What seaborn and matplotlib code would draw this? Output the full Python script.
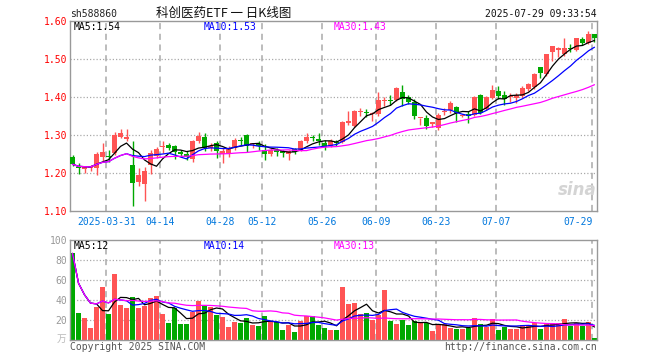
import numpy as np
import pandas as pd
import seaborn as sns
import matplotlib
matplotlib.use("Agg")
import matplotlib.pyplot as plt

# ---- data ----
dates = ["03-21", "03-24", "03-25", "03-26", "03-27", "03-28", "03-31", "04-01", "04-02", "04-03",
         "04-07", "04-08", "04-09", "04-10", "04-11", "04-14", "04-15", "04-16", "04-17", "04-18",
         "04-21", "04-22", "04-23", "04-24", "04-25", "04-28", "04-29", "04-30", "05-06", "05-07",
         "05-08", "05-09", "05-12", "05-13", "05-14", "05-15", "05-16", "05-19", "05-20", "05-21",
         "05-22", "05-23", "05-26", "05-27", "05-28", "05-29", "05-30", "06-03", "06-04", "06-05",
         "06-06", "06-09", "06-10", "06-11", "06-12", "06-13", "06-16", "06-17", "06-18", "06-19",
         "06-20", "06-23", "06-24", "06-25", "06-26", "06-27", "06-30", "07-01", "07-02", "07-03",
         "07-04", "07-07", "07-08", "07-09", "07-10", "07-11", "07-14", "07-15", "07-16", "07-17",
         "07-18", "07-21", "07-22", "07-23", "07-24", "07-25", "07-28", "07-29"]

opens = [1.242, 1.216, 1.210, 1.213, 1.213, 1.243, 1.244, 1.252, 1.296, 1.289,
         1.222, 1.176, 1.171, 1.222, 1.246, 1.268, 1.274, 1.271, 1.255, 1.249,
         1.237, 1.283, 1.296, 1.265, 1.280, 1.250, 1.250, 1.265, 1.286, 1.300,
         1.276, 1.276, 1.261, 1.250, 1.261, 1.257, 1.250, 1.263, 1.259, 1.285,
         1.294, 1.289, 1.278, 1.271, 1.282, 1.282, 1.332, 1.325, 1.360, 1.360,
         1.354, 1.354, 1.389, 1.393, 1.393, 1.413, 1.399, 1.387, 1.345, 1.344,
         1.330, 1.319, 1.361, 1.365, 1.374, 1.349, 1.356, 1.353, 1.405, 1.368,
         1.398, 1.416, 1.405, 1.400, 1.398, 1.403, 1.422, 1.426, 1.479, 1.460,
         1.518, 1.525, 1.512, 1.528, 1.523, 1.552, 1.543, 1.565]
highs = [1.247, 1.226, 1.219, 1.222, 1.254, 1.280, 1.261, 1.309, 1.316, 1.316,
         1.283, 1.213, 1.217, 1.261, 1.268, 1.285, 1.278, 1.274, 1.261, 1.257,
         1.287, 1.309, 1.304, 1.278, 1.283, 1.265, 1.271, 1.291, 1.296, 1.303,
         1.280, 1.283, 1.277, 1.265, 1.265, 1.261, 1.261, 1.265, 1.287, 1.304,
         1.300, 1.304, 1.287, 1.289, 1.288, 1.336, 1.363, 1.366, 1.372, 1.368,
         1.360, 1.414, 1.401, 1.404, 1.426, 1.431, 1.404, 1.395, 1.346, 1.353,
         1.335, 1.358, 1.371, 1.389, 1.376, 1.356, 1.362, 1.403, 1.407, 1.403,
         1.432, 1.428, 1.416, 1.411, 1.411, 1.429, 1.438, 1.464, 1.479, 1.514,
         1.535, 1.532, 1.554, 1.539, 1.556, 1.558, 1.575, 1.565]
lows = [1.219, 1.197, 1.201, 1.206, 1.196, 1.230, 1.230, 1.248, 1.291, 1.283,
        1.113, 1.167, 1.126, 1.198, 1.240, 1.252, 1.261, 1.237, 1.243, 1.235,
        1.230, 1.278, 1.257, 1.257, 1.239, 1.226, 1.242, 1.261, 1.274, 1.256,
        1.265, 1.261, 1.235, 1.246, 1.246, 1.242, 1.234, 1.250, 1.257, 1.280,
        1.283, 1.274, 1.261, 1.268, 1.270, 1.279, 1.327, 1.322, 1.350, 1.348,
        1.336, 1.351, 1.377, 1.378, 1.390, 1.377, 1.381, 1.341, 1.326, 1.317,
        1.322, 1.313, 1.353, 1.358, 1.335, 1.347, 1.332, 1.350, 1.356, 1.365,
        1.396, 1.394, 1.380, 1.388, 1.385, 1.398, 1.416, 1.420, 1.449, 1.455,
        1.495, 1.504, 1.508, 1.519, 1.521, 1.537, 1.539, 1.546]
closes = [1.223, 1.212, 1.215, 1.214, 1.250, 1.254, 1.242, 1.300, 1.304, 1.294,
          1.174, 1.196, 1.204, 1.252, 1.263, 1.270, 1.265, 1.254, 1.250, 1.243,
          1.283, 1.298, 1.265, 1.270, 1.257, 1.259, 1.265, 1.287, 1.285, 1.271,
          1.277, 1.270, 1.250, 1.261, 1.254, 1.252, 1.257, 1.254, 1.285, 1.296,
          1.291, 1.283, 1.268, 1.285, 1.279, 1.333, 1.336, 1.363, 1.363, 1.358,
          1.358, 1.392, 1.392, 1.390, 1.424, 1.396, 1.386, 1.350, 1.346, 1.324,
          1.331, 1.353, 1.362, 1.385, 1.359, 1.351, 1.349, 1.400, 1.358, 1.400,
          1.419, 1.402, 1.395, 1.403, 1.405, 1.423, 1.435, 1.461, 1.464, 1.512,
          1.535, 1.527, 1.528, 1.526, 1.554, 1.543, 1.565, 1.556]
volumes = [86.6, 27, 22, 12, 33, 53, 26, 66, 35, 32,
           43, 32, 34, 42, 44, 26, 17, 32, 16, 16,
           28, 39, 35, 33, 25, 23, 13, 18, 17, 22,
           15, 14, 24, 19, 18, 10, 15, 8, 19, 24,
           24, 15, 12, 10, 10, 53, 36, 37, 26, 27,
           20, 25, 50, 19, 16, 20, 15, 19, 17, 17,
           9, 16, 16, 12, 11, 11, 12, 22, 16, 13,
           21, 10, 13, 11, 11, 15, 14, 17, 11, 16,
           17, 17, 21, 14, 17, 14, 18, 2]

date_ticks = ["03-31", "04-14", "04-28", "05-12", "05-26", "06-09", "06-23", "07-07", "07-29"]
date_tick_labels = ["2025-03-31", "04-14", "04-28", "05-12", "05-26", "06-09", "06-23", "07-07", "07-29"]
price_ticks = [1.10, 1.20, 1.30, 1.40, 1.50, 1.60]
vol_ticks = [20, 40, 60, 80, 100]
price_legend = ["MA5:1.54", "MA10:1.53", "MA30:1.43"]
vol_legend = ["MA5:12", "MA10:14", "MA30:13"]

RED = "#ff5454"
GREEN = "#00a800"
GRID = "#aaaaaa"
MA_COLORS = ["black", "#0000ff", "#ff00ff"]

df = pd.DataFrame({"date": dates, "open": opens, "high": highs, "low": lows,
                   "close": closes, "vol": volumes})
df["x"] = np.arange(len(df))
for w in (5, 10, 30):
    df[f"ma{w}"] = df["close"].rolling(w, min_periods=1).mean()
    df[f"vma{w}"] = df["vol"].rolling(w, min_periods=1).mean()
colors = np.where(df["close"] >= df["open"], RED, GREEN)
grid_x = [dates.index(d) - 0.35 for d in date_ticks]

sns.set_theme(style="white")
plt.rcParams["font.family"] = ["DejaVu Sans Mono", "Noto Sans CJK SC"]

fig = plt.figure(figsize=(6.6, 3.6), dpi=100)
W, H = 660, 360
ax = fig.add_axes([70 / W, 1 - 211 / H, 527 / W, 190 / H])
axv = fig.add_axes([70 / W, 1 - 340 / H, 527 / W, 100 / H])
xlim = (-0.42, 87.42)

# ---- price panel ----
for t in price_ticks[1:-1]:
    ax.axhline(t, color=GRID, lw=0.9, ls=(0, (1, 1.6)), zorder=0)
for gx in grid_x:
    ax.axvline(gx, color=GRID, lw=1.1, ls=(0, (4, 3)), zorder=0)

ax.vlines(df["x"], df["low"], df["high"], colors=colors, lw=1, zorder=2)
body = np.maximum((df["close"] - df["open"]).abs(), 0.003)
ax.bar(df["x"], body, bottom=np.minimum(df["open"], df["close"]), width=0.8,
       color=colors, linewidth=0, zorder=3)
for w, c in zip((5, 10, 30), MA_COLORS):
    sns.lineplot(data=df, x="x", y=f"ma{w}", color=c, lw=0.9, ax=ax, zorder=4)

ax.set_xlim(*xlim)
ax.set_ylim(1.10, 1.60)
ax.set_yticks(price_ticks, [f"{t:.2f}" for t in price_ticks])
ax.tick_params(axis="y", length=0, pad=2, labelsize=7, labelcolor="red")
ax.set_xticks(grid_x, date_tick_labels)
ax.tick_params(axis="x", length=0, pad=4, labelsize=7, labelcolor="#0077dd")
ax.get_xticklabels()[-1].set_ha("right")
ax.set_xlabel("")
ax.set_ylabel("")
for s in ax.spines.values():
    s.set_color("#999999")
    s.set_linewidth(1)

for txt, xp, c in zip(price_legend, (74, 204, 334), MA_COLORS):
    fig.text(xp / W, 1 - 27 / H, txt, fontsize=7, color=c, ha="left", va="center")
fig.text(597 / W, 1 - 190 / H, "sina", fontsize=12, color="#d4d4d4",
         fontweight="bold", style="italic", ha="right", va="center",
         family="DejaVu Sans")

# ---- volume panel ----
for t in vol_ticks[:-1]:
    axv.axhline(t, color=GRID, lw=0.9, ls=(0, (1, 1.6)), zorder=0)
for gx in grid_x:
    axv.axvline(gx, color=GRID, lw=1.1, ls=(0, (4, 3)), zorder=0)
axv.bar(df["x"], df["vol"], width=0.8, color=colors, linewidth=0, zorder=2)
for w, c in zip((5, 10, 30), MA_COLORS):
    sns.lineplot(data=df, x="x", y=f"vma{w}", color=c, lw=0.9, ax=axv, zorder=4)
axv.set_xlim(*xlim)
axv.set_ylim(0, 100)
axv.set_yticks(vol_ticks, [str(t) for t in vol_ticks])
axv.tick_params(axis="y", length=0, pad=2, labelsize=7, labelcolor="#999999")
axv.set_xticks([])
axv.set_xlabel("")
axv.set_ylabel("")
for s in axv.spines.values():
    s.set_color("#999999")
    s.set_linewidth(1)
for txt, xp, c in zip(vol_legend, (74, 204, 334), MA_COLORS):
    fig.text(xp / W, 1 - 246 / H, txt, fontsize=7, color=c, ha="left", va="center")
fig.text(66 / W, 1 - 339 / H, "万", fontsize=7, color="#bbbbbb", ha="right",
         va="center", family=["Noto Sans CJK SC"])

# ---- header / footer ----
fig.text(70 / W, 1 - 14 / H, "sh588860", fontsize=7, color="#222222", ha="left", va="center")
fig.text(224 / W, 1 - 13 / H, "科创医药ETF 一 日K线图", fontsize=9, color="#111111",
         ha="center", va="center", family=["Noto Sans CJK SC", "DejaVu Sans"])
fig.text(597 / W, 1 - 14 / H, "2025-07-29 09:33:54", fontsize=7, color="#111111",
         ha="right", va="center")
fig.text(70 / W, 1 - 347 / H, "Copyright 2025 SINA.COM", fontsize=7, color="#555555",
         ha="left", va="center")
fig.text(597 / W, 1 - 347 / H, "http://finance.sina.com.cn", fontsize=7, color="#555555",
         ha="right", va="center")

fig.savefig("out.png", dpi=100)
